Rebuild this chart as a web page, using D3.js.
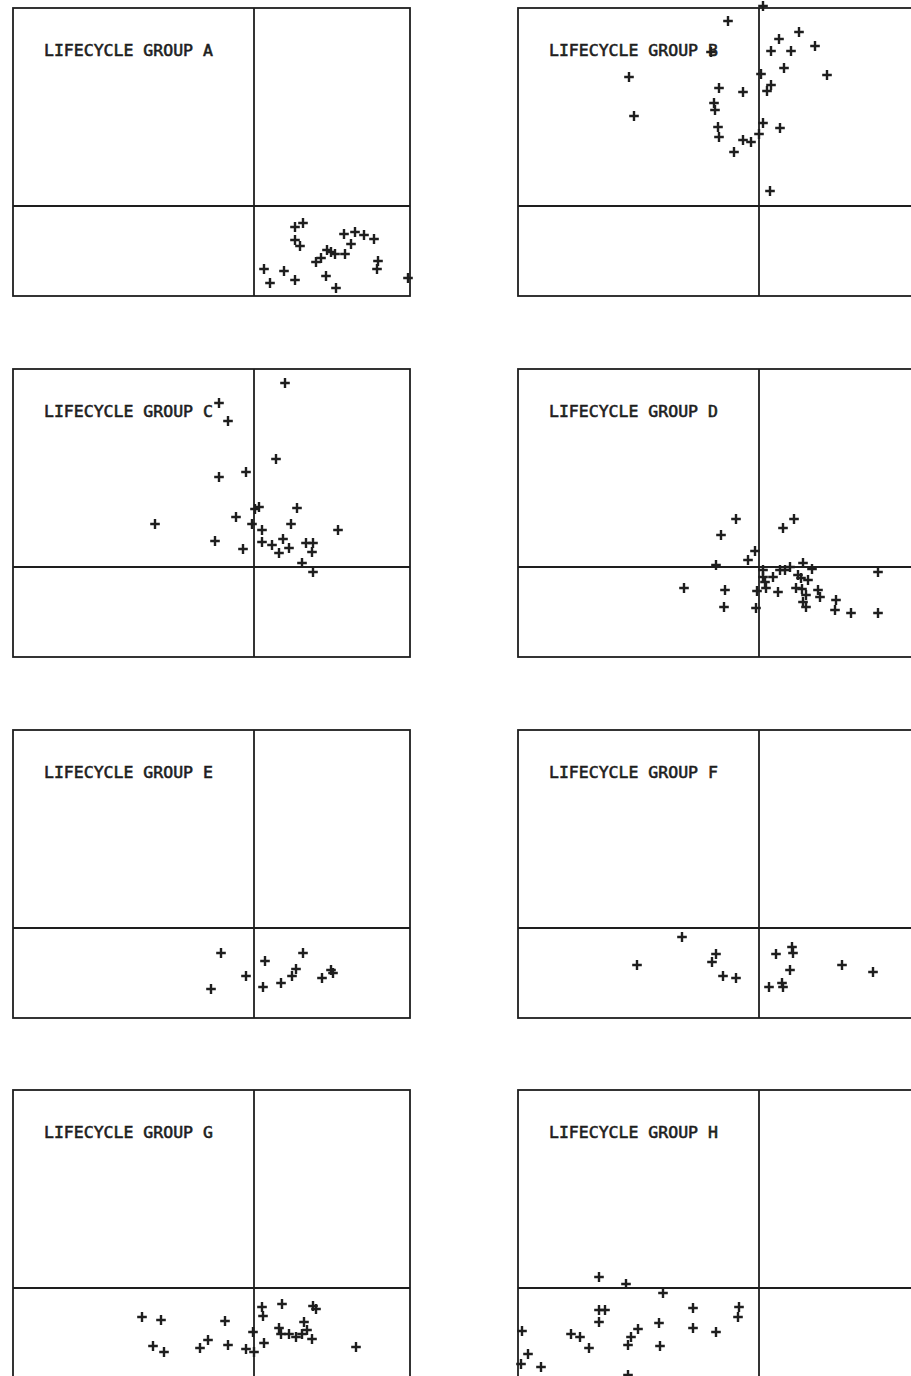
<!DOCTYPE html>
<html>
<head>
<meta charset="utf-8">
<script src="https://cdn.jsdelivr.net/npm/d3@7"></script>
<style>
  body { margin: 0; background: #fff; }
  svg { display: block; }
</style>
</head>
<body>
<svg width="911" height="1376"></svg>
<script>
// group names, one panel each (left to right, top to bottom)
const groups = ['A', 'B', 'C', 'D', 'E', 'F', 'G', 'H']

// scores per group as [x, y]
const groupA = [[0.41,-0.21],[0.49,-0.17],[0.41,-0.34],[0.46,-0.40],[0.10,-0.63],[0.16,-0.77],[0.30,-0.65],[0.41,-0.74],
  [0.90,-0.28],[1.01,-0.26],[1.10,-0.29],[1.20,-0.33],[0.97,-0.38],[0.73,-0.44],[0.81,-0.48],[0.91,-0.48],[0.77,-0.46],
  [0.67,-0.52],[0.62,-0.56],[0.72,-0.70],[0.82,-0.82],[1.24,-0.55],[1.23,-0.63],[1.54,-0.72]]
const groupB = [[-0.31,1.85],[0.04,2.00],[0.20,1.67],[0.40,1.74],[0.12,1.55],[0.32,1.55],[0.56,1.60],[-1.30,1.29],
  [0.25,1.38],[0.02,1.32],[0.68,1.31],[0.12,1.21],[0.08,1.15],[-0.40,1.18],[-0.16,1.14],[-0.45,1.03],[-0.44,0.96],
  [-1.25,0.90],[0.04,0.83],[0.21,0.78],[-0.41,0.79],[-0.40,0.69],[-0.16,0.66],[-0.08,0.64],[0.00,0.72],[-0.25,0.54],
  [0.11,0.15],[-0.48,1.54]]
const groupC = [[0.31,1.84],[-0.35,1.64],[-0.26,1.46],[0.22,1.08],[-0.08,0.95],[-0.35,0.90],[-0.99,0.43],[-0.18,0.50],
  [0.01,0.58],[0.05,0.60],[-0.02,0.43],[0.43,0.59],[0.37,0.43],[0.08,0.37],[0.84,0.37],[-0.39,0.26],[-0.11,0.18],
  [0.08,0.25],[0.18,0.22],[0.29,0.28],[0.25,0.14],[0.35,0.19],[0.52,0.24],[0.59,0.24],[0.58,0.15],[0.48,0.04],[0.59,-0.05]]
const groupD = [[-0.23,0.48],[-0.38,0.32],[0.35,0.48],[0.24,0.39],[-0.04,0.16],[-0.11,0.07],[-0.43,0.02],[-0.75,-0.21],
  [-0.34,-0.23],[-0.35,-0.40],[-0.03,-0.41],[-0.02,-0.24],[1.19,-0.05],[1.19,-0.46],[0.92,-0.46],[0.76,-0.43],
  [0.77,-0.33],[0.59,-0.23],[0.61,-0.30],[0.47,-0.40],[0.44,-0.35],[0.47,-0.28],[0.37,-0.21],[0.43,-0.22],[0.19,-0.25],
  [0.07,-0.21],[0.06,-0.15],[0.14,-0.10],[0.04,-0.03],[0.21,-0.03],[0.26,-0.03],[0.31,0.00],[0.44,0.04],[0.53,-0.02],
  [0.39,-0.08],[0.49,-0.13],[0.42,-0.11],[0.04,-0.10]]
const groupE = [[-0.33,-0.25],[-0.43,-0.61],[-0.08,-0.48],[0.11,-0.33],[0.09,-0.59],[0.27,-0.55],[0.38,-0.48],
  [0.42,-0.41],[0.49,-0.25],[0.68,-0.50],[0.77,-0.42],[0.79,-0.45]]
const groupF = [[-0.77,-0.09],[-1.22,-0.37],[-0.43,-0.26],[-0.47,-0.34],[-0.36,-0.48],[-0.23,-0.50],[0.17,-0.26],
  [0.33,-0.19],[0.34,-0.25],[0.31,-0.42],[0.10,-0.59],[0.23,-0.55],[0.24,-0.59],[0.83,-0.37],[1.14,-0.44]]
const groupG = [[-1.12,-0.29],[-0.93,-0.32],[-1.01,-0.58],[-0.90,-0.64],[-0.54,-0.60],[-0.46,-0.52],[-0.29,-0.33],
  [-0.26,-0.57],[-0.08,-0.61],[0.00,-0.64],[-0.01,-0.44],[0.08,-0.19],[0.09,-0.28],[0.10,-0.55],[0.28,-0.16],
  [0.59,-0.18],[0.62,-0.21],[0.50,-0.34],[0.25,-0.40],[0.27,-0.46],[0.35,-0.46],[0.42,-0.49],[0.48,-0.46],
  [0.53,-0.42],[0.58,-0.51],[1.02,-0.59]]
const groupH = [[-1.60,0.11],[-1.33,0.04],[-0.96,-0.05],[-1.60,-0.22],[-1.54,-0.22],[-1.60,-0.34],[-0.66,-0.20],
  [-0.66,-0.40],[-0.43,-0.44],[-0.20,-0.19],[-0.21,-0.29],[-1.00,-0.35],[-0.99,-0.58],[-1.21,-0.41],[-1.28,-0.49],
  [-1.31,-0.57],[-1.88,-0.46],[-1.79,-0.49],[-1.70,-0.60],[-2.37,-0.43],[-2.31,-0.66],[-2.38,-0.76],[-2.18,-0.79],
  [-1.31,-0.87]]

const allPoints = [groupA, groupB, groupC, groupD, groupE, groupF, groupG, groupH]

// axis ranges shared by every panel
const xDomain = [-2.41, 1.56]
const yDomain = [-0.9, 1.98]

const svg = d3.select('svg')
const panelWidth = 397
const panelHeight = 288
const colLeft = [13, 518]
const rowTop = [8, 369, 730, 1090]
const ink = '#1e1e1e'

const xScale = d3.scaleLinear().domain(xDomain).range([0, panelWidth])
const yScale = d3.scaleLinear().domain(yDomain).range([panelHeight, 0])

groups.forEach((name, i) => {
  const g = svg.append('g')
    .attr('transform', `translate(${colLeft[i % 2]}, ${rowTop[Math.floor(i / 2)]})`)

  //frame
  g.append('rect')
    .attr('width', panelWidth)
    .attr('height', panelHeight)
    .attr('fill', 'none')
    .attr('stroke', ink)
    .attr('stroke-width', 1.8)

  //zero lines
  g.append('line')
    .attr('x1', xScale(0)).attr('x2', xScale(0))
    .attr('y1', 0).attr('y2', panelHeight)
    .attr('stroke', ink).attr('stroke-width', 1.8)
  g.append('line')
    .attr('x1', 0).attr('x2', panelWidth)
    .attr('y1', yScale(0)).attr('y2', yScale(0))
    .attr('stroke', ink).attr('stroke-width', 1.8)

  //title
  g.append('text')
    .attr('x', 31)
    .attr('y', 47.5)
    .attr('font-family', 'DejaVu Sans Mono, Liberation Mono, monospace')
    .attr('font-size', 16.5)
    .attr('fill', ink)
    .attr('stroke', ink)
    .attr('stroke-width', 0.6)
    .text('LIFECYCLE GROUP ' + name)

  //plus markers
  g.selectAll('path.pt')
    .data(allPoints[i])
    .enter()
    .append('path')
      .attr('class', 'pt')
      .attr('transform', d => `translate(${xScale(d[0])}, ${yScale(d[1])})`)
      .attr('d', 'M-4.8,0H4.8M0,-5V5')
      .attr('stroke', ink)
      .attr('stroke-width', 2.4)
})
</script>
</body>
</html>
